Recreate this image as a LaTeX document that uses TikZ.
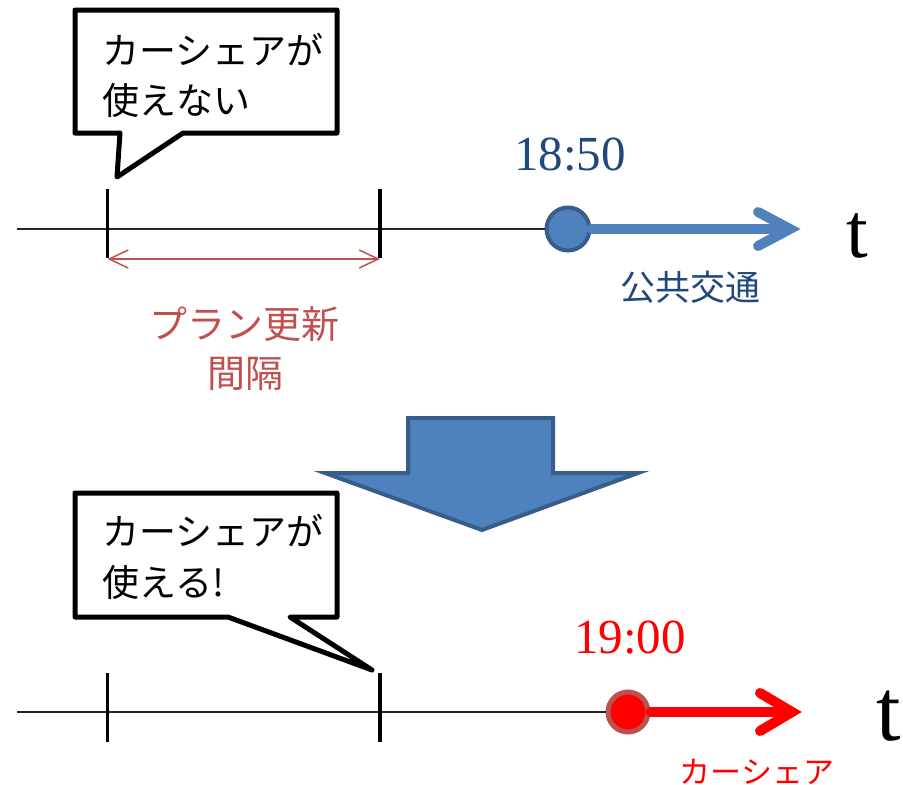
\documentclass[tikz,border=0pt]{standalone}
\usepackage{fontspec}
\setmainfont{Liberation Serif}
\newfontfamily\jp{Noto Sans CJK JP}
\usetikzlibrary{arrows.meta,calc}
\definecolor{bfill}{HTML}{4F81BD}
\definecolor{bline}{HTML}{385D8A}
\definecolor{btext}{HTML}{1F497D}
\definecolor{rtext}{HTML}{C0504D}
\definecolor{rring}{HTML}{B85450}
\tikzset{
  axis/.style={line width=2pt,black!85},
  tick/.style={line width=3.5pt,black},
  callout/.style={line width=5pt,black,line join=round,fill=white},
  jptext/.style={font=\jp\fontsize{37}{50}\selectfont,inner sep=0pt},
  bluearr/.style={line width=10pt,color=bfill,line cap=round,line join=miter},
  redarr/.style={line width=10pt,color=red,line cap=round,line join=miter},
  dim/.style={line width=1.5pt,color=rtext,{Straight Barb[length=19pt,width=18pt]}-{Straight Barb[length=19pt,width=18pt]}},
}
\begin{document}
\begin{tikzpicture}[x=1pt,y=-1pt]
\useasboundingbox (0,0) rectangle (903,785);

% ---------- top timeline ----------
\node[circle,draw=bline,line width=4pt,fill=bfill,minimum size=43pt,inner sep=0pt] (c1) at (568,229) {};
\coordinate (L1) at (17,229);
\draw[axis] (L1) -- (c1.west);
\coordinate (t1a) at (107.5,189); \coordinate (t1b) at (107.5,258);
\coordinate (t2a) at (380,189); \coordinate (t2b) at (380,258);
\draw[tick] (t1a) -- (t1b);
\draw[tick] (t2a) -- (t2b);
\coordinate (d1) at (107.5,259); \coordinate (d2) at (380,259);
\draw[dim] (d1) -- (d2);
\coordinate (tip1) at (790,229);
\draw[bluearr] (c1.east) -- (tip1);
\draw[bluearr] (758,212) -- (tip1) -- (758,246);
\node[font=\fontsize{49}{55}\selectfont,text=btext,anchor=base,inner sep=0pt] (n1850) at (570,170) {18:50};
\node[font=\fontsize{78}{80}\selectfont,anchor=base,inner sep=0pt] (tt1) at (857,257) {t};
\node[font=\jp\fontsize{35}{40}\selectfont,text=btext,anchor=base,inner sep=0pt] (kk) at (690,300) {公共交通};
\node[font=\jp\fontsize{38}{48}\selectfont,text=rtext,anchor=base,inner sep=0pt] (pl1) at (244,338) {プラン更新};
\node[font=\jp\fontsize{38}{48}\selectfont,text=rtext,anchor=base,inner sep=0pt] (pl2) at (245,387) {間隔};

% top callout
\draw[callout] (75,10) -- (337,10) -- (337,133) -- (183,133) -- (117,177) -- (120,133) -- (75,133) -- cycle;
\node[jptext,anchor=base west] (q1a) at (102,64) {カーシェアが};
\node[jptext,anchor=base west] (q1b) at (102,114) {使えない};

% ---------- big arrow ----------
\draw[fill=bfill,draw=bline,line width=4pt,line join=miter] (408,418) -- (553,418) -- (553,473) -- (638,473) -- (482,530) -- (325,473) -- (408,473) -- cycle;

% ---------- bottom timeline ----------
\node[circle,draw=rring,line width=5pt,fill=red,minimum size=40pt,inner sep=0pt] (c2) at (628,712) {};
\coordinate (L2) at (17,712);
\draw[axis] (L2) -- (c2.west);
\coordinate (u1a) at (107.5,673); \coordinate (u1b) at (107.5,742);
\coordinate (u2a) at (380,673); \coordinate (u2b) at (380,742);
\draw[tick] (u1a) -- (u1b);
\draw[tick] (u2a) -- (u2b);
\coordinate (tip2) at (792,712);
\draw[redarr] (c2.east) -- (tip2);
\draw[redarr] (760,693) -- (tip2) -- (760,731);
\node[font=\fontsize{49}{55}\selectfont,text=red,anchor=base,inner sep=0pt] (n1900) at (630,653) {19:00};
\node[font=\fontsize{88}{90}\selectfont,anchor=base,inner sep=0pt] (tt2) at (889,740) {t};
\node[font=\jp\fontsize{31}{36}\selectfont,text=red,anchor=base,inner sep=0pt] (cs) at (757,783) {カーシェア};

% bottom callout
\draw[callout] (75,493) -- (337,493) -- (337,617) -- (290,617) -- (372,670) -- (228,617) -- (75,617) -- cycle;
\node[jptext,anchor=base west] (q2a) at (102,545) {カーシェアが};
\node[jptext,anchor=base west] (q2b) at (102,596) {使える!};
\end{tikzpicture}
\end{document}
